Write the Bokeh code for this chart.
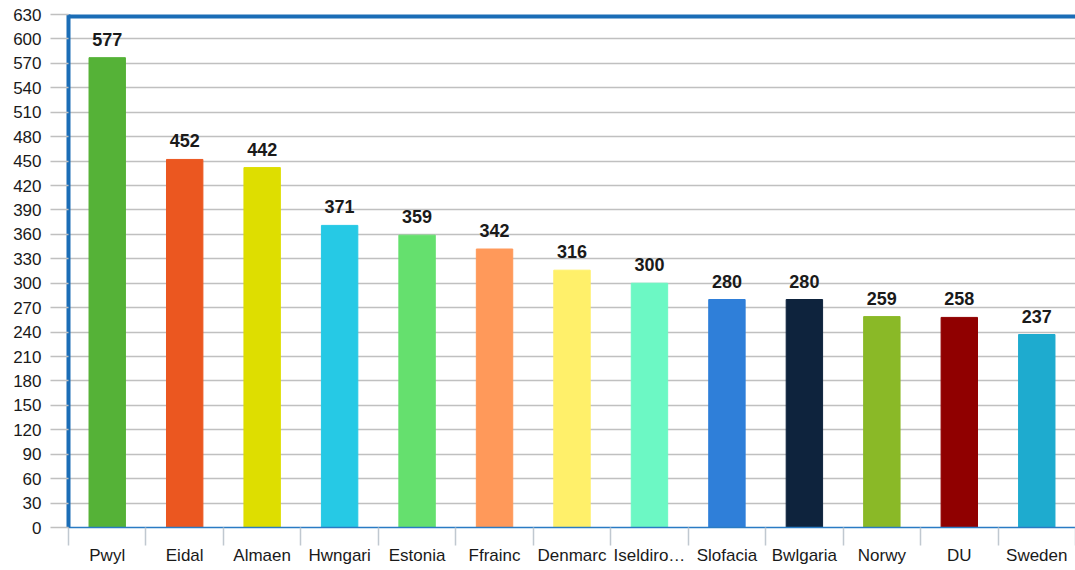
from bokeh.plotting import figure
from bokeh.models import ColumnDataSource, Range1d, FixedTicker, Span, LabelSet
from bokeh.core.properties import value
from bokeh.embed import file_html
from bokeh.resources import INLINE

categories = ["Pwyl", "Eidal", "Almaen", "Hwngari", "Estonia", "Ffrainc", "Denmarc",
              "Iseldiro…", "Slofacia", "Bwlgaria", "Norwy", "DU", "Sweden"]
values = [577, 452, 442, 371, 359, 342, 316, 300, 280, 280, 259, 258, 237]
colors = ["#55b237", "#eb5720", "#dede00", "#26c9e5", "#65e06e", "#ff995a", "#fff06a",
          "#6cf8c4", "#2f7fd9", "#0e233d", "#8ab927", "#900000", "#1eabcf"]
y_ticks = list(range(0, 631, 30))

xs = [i + 0.5 for i in range(len(categories))]
src = ColumnDataSource(dict(x=xs, top=values, color=colors,
                            label=[str(v) for v in values]))

p = figure(width=1075, height=568, output_backend="svg", toolbar_location=None,
           x_range=Range1d(0, len(categories)), y_range=Range1d(0, 630),
           min_border_left=68, min_border_right=0, min_border_top=14,
           min_border_bottom=41, outline_line_color=None)

p.vbar(x="x", top="top", width=0.47, color="color", source=src)

labels = LabelSet(x="x", y="top", text="label", source=src, text_align="center",
                  text_baseline="alphabetic", y_offset=12,
                  text_font=value("Liberation Sans"),
                  text_font_size=value("18px"), text_font_style=value("bold"),
                  text_color=value("#1a1a1a"))
p.add_layout(labels)

# y axis
p.yaxis.ticker = FixedTicker(ticks=y_ticks)
p.yaxis.axis_line_color = "#1b6db6"
p.yaxis.axis_line_width = 4
p.yaxis.major_tick_line_color = "#c0c0c0"
p.yaxis.major_tick_line_width = 1.5
p.yaxis.major_tick_out = 18
p.yaxis.major_tick_in = 0
p.yaxis.minor_tick_line_color = None
p.yaxis.major_label_standoff = 9
p.yaxis.major_label_text_font = "Liberation Sans"
p.yaxis.major_label_text_font_size = "17px"
p.yaxis.major_label_text_color = "#1a1a1a"

# x axis: labels at centers, separators as minor ticks
p.xaxis.ticker = FixedTicker(ticks=xs, minor_ticks=list(range(len(categories) + 1)))
p.xaxis.major_label_overrides = {x: c for x, c in zip(xs, categories)}
p.xaxis.axis_line_color = "#2a7bc4"
p.xaxis.axis_line_width = 1.5
p.xaxis.major_tick_line_color = None
p.xaxis.major_tick_out = 0
p.xaxis.major_tick_in = 0
p.xaxis.minor_tick_line_color = "#c0c8d0"
p.xaxis.minor_tick_line_width = 1.5
p.xaxis.minor_tick_out = 18
p.xaxis.minor_tick_in = 0
p.xaxis.major_label_standoff = 0
p.xaxis.major_label_text_font = "Liberation Sans"
p.xaxis.major_label_text_font_size = "17px"
p.xaxis.major_label_text_color = "#1a1a1a"

p.xgrid.grid_line_color = None
p.ygrid.ticker = FixedTicker(ticks=y_ticks)
p.ygrid.grid_line_color = "#c0c0c0"
p.ygrid.grid_line_width = 1.5

p.add_layout(Span(location=630, dimension="width", line_color="#1b6db6", line_width=8))

open("out.html", "w").write(file_html(p, INLINE))
